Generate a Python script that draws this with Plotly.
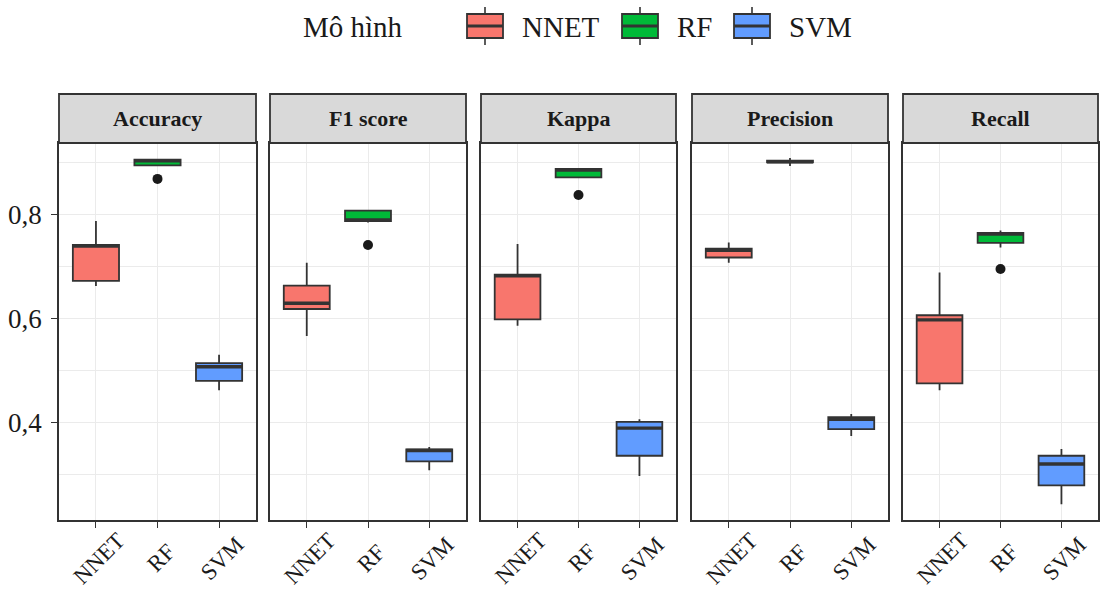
import plotly.graph_objects as go

# Metrics (facets) and models (categories)
metrics = ["Accuracy", "F1 score", "Kappa", "Precision", "Recall"]
models = ["NNET", "RF", "SVM"]
legend_title = "Mô hình"

# Box statistics per model, one value per metric
nnet_low = [0.663, 0.567, 0.587, 0.708, 0.463]
nnet_q1 = [0.673, 0.619, 0.599, 0.718, 0.476]
nnet_med = [0.740, 0.630, 0.683, 0.732, 0.598]
nnet_q3 = [0.742, 0.664, 0.685, 0.735, 0.607]
nnet_high = [0.788, 0.708, 0.744, 0.747, 0.689]

rf_low = [0.895, 0.785, 0.872, 0.894, 0.737]
rf_q1 = [0.895, 0.788, 0.872, 0.901, 0.746]
rf_med = [0.904, 0.790, 0.886, 0.902, 0.763]
rf_q3 = [0.906, 0.808, 0.888, 0.904, 0.765]
rf_high = [0.906, 0.808, 0.888, 0.909, 0.770]
rf_outliers = [0.869, 0.742, 0.838, None, 0.696]

svm_low = [0.463, 0.309, 0.298, 0.375, 0.244]
svm_q1 = [0.481, 0.326, 0.337, 0.388, 0.280]
svm_med = [0.508, 0.347, 0.390, 0.407, 0.321]
svm_q3 = [0.515, 0.349, 0.402, 0.411, 0.337]
svm_high = [0.531, 0.354, 0.407, 0.417, 0.350]

stats = {
    "NNET": dict(low=nnet_low, q1=nnet_q1, med=nnet_med, q3=nnet_q3, high=nnet_high, out=[None] * 5),
    "RF": dict(low=rf_low, q1=rf_q1, med=rf_med, q3=rf_q3, high=rf_high, out=rf_outliers),
    "SVM": dict(low=svm_low, q1=svm_q1, med=svm_med, q3=svm_q3, high=svm_high, out=[None] * 5),
}
colors = {"NNET": "#F8766D", "RF": "#00BA38", "SVM": "#619CFF"}

FONT = "Liberation Serif"
DARK = "#333333"
TXT = "#1a1a1a"
BOX_W = 0.75
W, H = 1105, 590


def px(x):
    return x / W


def py(y):
    return 1 - y / H


# facet panel extents in pixels
panel_px = [(59, 256), (270, 466), (481, 676), (692, 888), (903, 1098)]
panel_top, panel_bot, strip_top = 143, 520, 94

fig = go.Figure()

for p, metric in enumerate(metrics):
    ax = "" if p == 0 else str(p + 1)
    xref, yref = "x" + ax, "y" + ax
    for i, m in enumerate(models):
        s = stats[m]
        fig.add_trace(go.Box(
            x=[i], q1=[s["q1"][p]], median=[s["med"][p]], q3=[s["q3"][p]],
            lowerfence=[s["low"][p]], upperfence=[s["high"][p]],
            width=BOX_W, whiskerwidth=0,
            fillcolor=colors[m], line=dict(color=DARK, width=1.8),
            name=m, showlegend=False,
            xaxis=xref, yaxis=yref, hoverinfo="skip",
        ))
        # thicker median bar
        fig.add_trace(go.Scatter(
            x=[i - BOX_W / 2, i + BOX_W / 2], y=[s["med"][p]] * 2,
            mode="lines", line=dict(color=DARK, width=3.4),
            showlegend=False, xaxis=xref, yaxis=yref, hoverinfo="skip",
        ))
        if s["out"][p] is not None:
            fig.add_trace(go.Scatter(
                x=[i], y=[s["out"][p]], mode="markers",
                marker=dict(color=TXT, size=10),
                showlegend=False, xaxis=xref, yaxis=yref, hoverinfo="skip",
            ))
        # rotated category label under each tick
        fig.add_annotation(
            text=m, xref=xref, yref="paper", x=i, y=py(558), xshift=3,
            xanchor="center", yanchor="middle", textangle=-45, showarrow=False,
            font=dict(family=FONT, size=23, color=TXT),
        )

    x0, x1 = panel_px[p]
    fig.layout["xaxis" + ax] = dict(
        domain=[px(x0), px(x1)], anchor=yref, range=[-0.6, 2.6],
        tickvals=[0, 1, 2], showticklabels=False,
        ticks="outside", ticklen=6, tickcolor=DARK, tickwidth=1.4,
        showgrid=True, gridcolor="#ebebeb", gridwidth=1.2, zeroline=False,
        showline=True, mirror=True, linecolor=DARK, linewidth=1.8,
        automargin=False,
    )
    fig.layout["yaxis" + ax] = dict(
        domain=[py(panel_bot), py(panel_top)], anchor=xref, range=[0.2135, 0.938],
        tick0=0, dtick=0.2, tickformat=".1f",
        ticks="outside" if p == 0 else "", ticklen=6, tickcolor=DARK, tickwidth=1.4,
        showticklabels=(p == 0), ticklabelstandoff=4,
        showgrid=True, gridcolor="#ebebeb", gridwidth=1.2, zeroline=False,
        minor=dict(dtick=0.1, tick0=0, showgrid=True, gridcolor="#ebebeb", gridwidth=0.8),
        showline=True, mirror=True, linecolor=DARK, linewidth=1.8,
        tickfont=dict(family=FONT, size=27, color=TXT), automargin=False,
    )
    if p > 0:
        fig.layout["yaxis" + ax]["matches"] = "y"

    # facet strip
    fig.add_shape(type="rect", xref="paper", yref="paper",
                  x0=px(x0), x1=px(x1), y0=py(panel_top), y1=py(strip_top),
                  fillcolor="#d9d9d9", line=dict(color=DARK, width=1.8))
    fig.add_annotation(text="<b>%s</b>" % metric, xref="paper", yref="paper",
                       x=px((x0 + x1) / 2), y=py((panel_top + strip_top) / 2),
                       xanchor="center", yanchor="middle",
                       showarrow=False, font=dict(family=FONT, size=22, color=TXT))

# legend drawn as ggplot-style keys
fig.add_annotation(text=legend_title, xref="paper", yref="paper",
                   x=px(301), y=py(27), xanchor="left", yanchor="middle",
                   showarrow=False, font=dict(family=FONT, size=29, color=TXT))
key_left = {"NNET": 467, "RF": 622, "SVM": 734}
for m in models:
    kx = key_left[m]
    fig.add_shape(type="line", xref="paper", yref="paper",
                  x0=px(kx + 18), x1=px(kx + 18), y0=py(7), y1=py(45),
                  line=dict(color=DARK, width=1.6))
    fig.add_shape(type="rect", xref="paper", yref="paper",
                  x0=px(kx), x1=px(kx + 36), y0=py(38), y1=py(14),
                  fillcolor=colors[m], line=dict(color=DARK, width=1.8))
    fig.add_shape(type="line", xref="paper", yref="paper",
                  x0=px(kx), x1=px(kx + 36), y0=py(26), y1=py(26),
                  line=dict(color=DARK, width=3))
    fig.add_annotation(text=m, xref="paper", yref="paper",
                       x=px(kx + 53), y=py(27), xanchor="left", yanchor="middle",
                       showarrow=False, font=dict(family=FONT, size=29, color=TXT))

fig.update_layout(
    width=W, height=H,
    margin=dict(l=0, r=0, t=0, b=0),
    paper_bgcolor="white", plot_bgcolor="white",
    separators=",.",
    showlegend=False,
)

fig.write_html("out.html")
